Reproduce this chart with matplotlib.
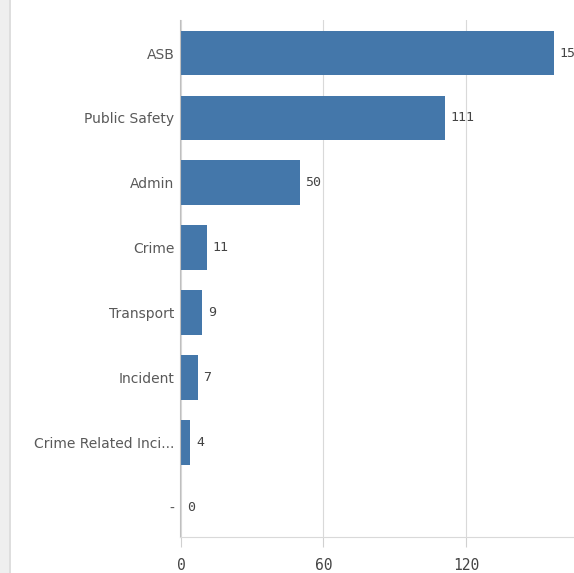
import matplotlib.pyplot as plt
import matplotlib.patches as patches

# incident counts by category
categories = ['ASB', 'Public Safety', 'Admin', 'Crime', 'Transport', 'Incident',
              'Crime Related Inci...', '-']
counts = [157, 111, 50, 11, 9, 7, 4, 0]
x_ticks = [0, 60, 120]

bar_color = '#4477aa'
text_color = '#595959'

fig = plt.figure(figsize=(5.74, 5.73), dpi=100)

# grey panel strip on the left edge
fig.patches.append(patches.Rectangle((0, 0), 9 / 574, 1, transform=fig.transFigure,
                                     facecolor='#efefef', edgecolor='none', zorder=0))
fig.patches.append(patches.Rectangle((9 / 574, 0), 1.5 / 574, 1, transform=fig.transFigure,
                                     facecolor='#dedede', edgecolor='none', zorder=0))

ax = fig.add_axes([180 / 574, 36 / 573, 1 - 180 / 574, 517 / 573])

y = list(range(len(categories)))
ax.barh(y, counts, height=0.69, color=bar_color, zorder=2)
for yi, v in zip(y, counts):
    ax.text(v + 2.4, yi, str(v), va='center', ha='left', fontsize=9.5,
            family='DejaVu Sans Mono', color='#444444', clip_on=False)

ax.set_ylim(len(categories) - 0.54, -0.51)
ax.set_xlim(-0.4, 165.5)
ax.set_yticks(y)
ax.set_yticklabels(categories, fontsize=10, color=text_color)
ax.set_xticks(x_ticks)
ax.set_xticklabels([str(t) for t in x_ticks], fontsize=10.5, color='#444444',
                   family='DejaVu Sans Mono')
ax.tick_params(axis='x', length=7, width=0.8, color='#d0d0d0', pad=8)
ax.tick_params(axis='y', length=0, pad=4)

ax.grid(axis='x', color='#d9d9d9', linewidth=0.8, zorder=0)
ax.set_axisbelow(True)
for side in ['top', 'right']:
    ax.spines[side].set_visible(False)
ax.spines['left'].set_color('#bfbfbf')
ax.spines['bottom'].set_color('#d9d9d9')

fig.savefig('out.png', dpi=100)
